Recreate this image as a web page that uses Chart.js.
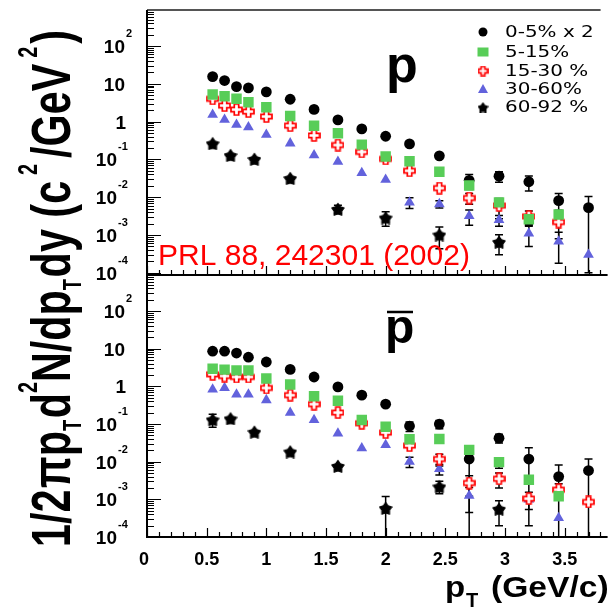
<!DOCTYPE html>
<html>
<head>
<meta charset="utf-8">
<title>Identified proton spectra</title>
<script src="https://cdn.jsdelivr.net/npm/chart.js@4.4.0/dist/chart.umd.min.js"></script>
<style>
  body { margin: 0; background: #fff; }
  #wrap { position: relative; width: 615px; height: 608px; }
  #wrap canvas { position: absolute; left: 0; top: 0; }
</style>
</head>
<body>
<div id="wrap">
  <canvas id="protonChart" width="615" height="608"></canvas>
  <canvas id="antiprotonChart" width="615" height="608"></canvas>
</div>
<script>
// pT bin centres (GeV/c) for the four central classes
const ptBins = [0.55, 0.65, 0.75, 0.85, 1.0, 1.2, 1.4, 1.6, 1.8, 2.0, 2.2, 2.45, 2.7, 2.95, 3.2, 3.45, 3.7];
// wider bins used for the most peripheral class
const ptPeripheral = [0.55, 0.7, 0.9, 1.2, 1.6, 2.0, 2.45, 2.95];

const centralityLabels = ['0-5% x 2', '5-15%', '15-30 %', '30-60%', '60-92 %'];

// protons
const pCentral = [15.5, 12.2, 8.4, 7.8, 6.1, 3.9, 2.1, 1.11, 0.64, 0.41, 0.257, 0.124, 0.028, 0.036, 0.0256, 0.0081, 0.0053];
const pCentralErr = [0, 0, 0, 0, 0, 0, 0, 0, 0, 0, 0, 0, 0.012, 0.011, 0.011, 0.0045, 0.0052];
const p515 = [5.2, 4.67, 4.0, 3.24, 2.39, 1.41, 0.78, 0.49, 0.246, 0.119, 0.089, 0.047, 0.0203, 0.0073, 0.0026, 0.0035, null];
const p515Err = [0, 0, 0, 0, 0, 0, 0, 0, 0, 0, 0, 0, 0, 0.0015, 0.0008, 0.001, 0];
const p1530 = [4.0, 2.65, 2.08, 1.84, 1.36, 0.78, 0.43, 0.24, 0.158, 0.103, 0.05, 0.0174, 0.0095, 0.006, 0.0031, 0.0022, null];
const p1530Err = [0, 0, 0, 0, 0, 0, 0, 0, 0, 0, 0, 0, 0.003, 0.0033, 0.0012, 0.0014, 0];
const p3060 = [1.53, 1.13, 0.83, 0.71, 0.45, 0.267, 0.13, 0.087, 0.044, 0.029, 0.0073, 0.0066, 0.0032, 0.0025, 0.0011, 0.00068, 0.0003];
const p3060Err = [0, 0, 0, 0, 0, 0, 0, 0, 0, 0, 0.0023, 0.0014, 0.0014, 0.0008, 0.0006, 0.0005, 0];
const p6092 = [0.267, 0.13, 0.103, 0.032, 0.0049, 0.0029, 0.00103, 0.00066];
const p6092Err = [0, 0, 0, 0, 0.0012, 0.0012, 0.0006, 0.00036];

// antiprotons
const pbarCentral = [8.5, 8.5, 7.6, 5.9, 4.4, 2.8, 1.76, 0.96, 0.58, 0.335, 0.088, 0.099, 0.0117, 0.042, 0.0117, 0.004, 0.0058];
const pbarCentralErr = [0, 0, 0, 0, 0, 0, 0, 0, 0, 0, 0.025, 0.025, 0.013, 0.011, 0.0115, 0.0041, 0.0059];
const pbar515 = [2.93, 2.76, 2.64, 2.64, 1.6, 1.11, 0.545, 0.41, 0.127, 0.084, 0.039, 0.04, 0.0205, 0.0097, 0.0033, 0.0012, null];
const pbar515Err = [0, 0, 0, 0, 0, 0, 0, 0, 0, 0, 0.01, 0, 0.006, 0.003, 0, 0, 0];
const pbar1530 = [2.07, 1.87, 1.76, 1.76, 0.9, 0.58, 0.335, 0.2, 0.104, 0.059, 0.0266, 0.0117, 0.0027, 0.0035, 0.00104, 0.0018, 0.00085];
const pbar1530Err = [0, 0, 0, 0, 0, 0, 0, 0, 0, 0, 0, 0.004, 0.0015, 0.0015, 0.0005, 0.0008, 0];
const pbar3060 = [0.82, 0.9, 0.61, 0.61, 0.43, 0.2, 0.127, 0.056, 0.0228, 0.0277, 0.01, 0.0064, 0.00125, null, 0.00099, 0.00032, null];
const pbar3060Err = [0, 0, 0, 0, 0, 0, 0, 0, 0, 0, 0.003, 0.002, 0.0008, 0, 0, 0, 0];
const pbar6092 = [0.132, 0.14, 0.062, 0.0185, 0.0077, 0.00059, 0.0022, 0.00056];
const pbar6092Err = [0.05, 0, 0, 0, 0, 0.0006, 0.0008, 0.00036];

// axis tick labels
const xTickLabels = ['0', '0.5', '1', '1.5', '2', '2.5', '3', '3.5'];
const yTickExponents = [2, 1, 0, -1, -2, -3, -4];

const FONT = '"Liberation Sans", Arial, sans-serif';
const GREEN = '#58cd58';
const BLUE = '#6262dc';

// open red cross used for 15-30%
function crossImage(size) {
  const c = document.createElement('canvas');
  c.width = c.height = size;
  const g = c.getContext('2d');
  const m = size / 2, a = size * 0.17, r = size / 2 - 1;
  g.beginPath();
  g.moveTo(m - a, m - r); g.lineTo(m + a, m - r); g.lineTo(m + a, m - a);
  g.lineTo(m + r, m - a); g.lineTo(m + r, m + a); g.lineTo(m + a, m + a);
  g.lineTo(m + a, m + r); g.lineTo(m - a, m + r); g.lineTo(m - a, m + a);
  g.lineTo(m - r, m + a); g.lineTo(m - r, m - a); g.lineTo(m - a, m - a);
  g.closePath();
  g.fillStyle = '#fff';
  g.fill();
  g.strokeStyle = '#f00';
  g.lineWidth = 1.7;
  g.stroke();
  return c;
}

// filled black star used for 60-92%
function starImage(size) {
  const c = document.createElement('canvas');
  c.width = c.height = size;
  const g = c.getContext('2d');
  const m = size / 2, ro = size / 2 - 0.5, ri = ro * 0.62;
  g.beginPath();
  for (let i = 0; i < 10; i++) {
    const r = i % 2 ? ri : ro;
    const ang = -Math.PI / 2 + i * Math.PI / 5;
    const px = m + r * Math.cos(ang), py = m + 1 + r * Math.sin(ang);
    if (i === 0) g.moveTo(px, py); else g.lineTo(px, py);
  }
  g.closePath();
  g.fillStyle = '#000';
  g.fill();
  g.strokeStyle = '#000';
  g.lineWidth = 1.2;
  g.lineJoin = 'round';
  g.stroke();
  return c;
}

const crossMarker = crossImage(13);
const crossLegend = crossImage(11);
const starMarker = starImage(14);
const starLegend = starImage(11);

function toPoints(xs, ys, errs) {
  const pts = [];
  xs.forEach((x, i) => {
    if (ys[i] == null) return;
    pts.push({ x: x, y: ys[i], err: errs[i] || 0 });
  });
  return pts;
}

function makeDatasets(c, cErr, s, sErr, cr, crErr, t, tErr, st, stErr) {
  return [
    { label: centralityLabels[1], data: toPoints(ptBins, s, sErr), pointStyle: 'rect', pointRadius: 7.4,
      backgroundColor: GREEN, borderColor: GREEN, borderWidth: 0 },
    { label: centralityLabels[2], data: toPoints(ptBins, cr, crErr), pointStyle: crossMarker, pointRadius: 6 },
    { label: centralityLabels[3], data: toPoints(ptBins, t, tErr), pointStyle: 'triangle', pointRadius: 6.2,
      backgroundColor: BLUE, borderColor: BLUE, borderWidth: 0 },
    { label: centralityLabels[4], data: toPoints(ptPeripheral, st, stErr), pointStyle: starMarker, pointRadius: 6 },
    { label: centralityLabels[0], data: toPoints(ptBins, c, cErr), pointStyle: 'circle', pointRadius: 5.4,
      backgroundColor: '#000', borderColor: '#000', borderWidth: 0 }
  ];
}

// vertical error bars with end caps, drawn under the markers
const errorBars = {
  id: 'errorBars',
  beforeDatasetsDraw(chart) {
    const { ctx, chartArea: a, scales: { y } } = chart;
    ctx.save();
    ctx.beginPath();
    ctx.rect(a.left, a.top, a.right - a.left, a.bottom - a.top);
    ctx.clip();
    ctx.strokeStyle = '#000';
    ctx.lineWidth = 1.5;
    chart.data.datasets.forEach((ds, di) => {
      const meta = chart.getDatasetMeta(di);
      ds.data.forEach((p, i) => {
        if (!p.err) return;
        const px = meta.data[i].x;
        const hi = y.getPixelForValue(p.y + p.err);
        const lowVal = p.y - p.err;
        const lo = lowVal > y.min ? y.getPixelForValue(lowVal) : a.bottom;
        ctx.beginPath();
        ctx.moveTo(px, hi); ctx.lineTo(px, lo);
        ctx.moveTo(px - 4, hi); ctx.lineTo(px + 4, hi);
        if (lowVal > y.min) { ctx.moveTo(px - 4, lo); ctx.lineTo(px + 4, lo); }
        ctx.stroke();
      });
    });
    ctx.restore();
  }
};

function stretchedText(ctx, text, x, y, sx) {
  ctx.save();
  ctx.translate(x, y);
  ctx.scale(sx, 1);
  ctx.fillText(text, 0, 0);
  ctx.restore();
}

// frame, inward ticks, tick labels and panel annotations
const panelDecor = {
  id: 'panelDecor',
  afterDraw(chart, args, opts) {
    const { ctx, chartArea: a, scales: { x, y } } = chart;
    ctx.save();

    if (opts.topFrame) {
      ctx.strokeStyle = '#555';
      ctx.lineWidth = 2;
      ctx.beginPath();
      ctx.moveTo(a.left, a.top); ctx.lineTo(a.right - 7, a.top);
      ctx.stroke();
    }
    ctx.strokeStyle = '#000';
    ctx.lineWidth = 2;
    ctx.beginPath();
    ctx.moveTo(a.left, a.top); ctx.lineTo(a.left, a.bottom); ctx.lineTo(a.right, a.bottom);
    ctx.stroke();

    ctx.lineWidth = 1.2;
    ctx.beginPath();
    for (let e = -5; e <= 3; e++) {
      for (let k = 1; k < 10; k++) {
        const v = k * Math.pow(10, e);
        if (v < y.min || v > y.max) continue;
        const py = Math.round(y.getPixelForValue(v)) + 0.5;
        ctx.moveTo(a.left, py); ctx.lineTo(a.left + (k === 1 ? 14 : 7), py);
      }
    }
    for (let i = 0; i * 0.1 <= x.max; i++) {
      const px = Math.round(x.getPixelForValue(i * 0.1)) + 0.5;
      ctx.moveTo(px, a.bottom); ctx.lineTo(px, a.bottom - (i % 5 === 0 ? 9 : 5));
    }
    ctx.stroke();

    // decade labels
    ctx.fillStyle = '#000';
    ctx.textBaseline = 'alphabetic';
    yTickExponents.forEach(e => {
      const py = y.getPixelForValue(Math.pow(10, e));
      ctx.font = 'bold 19px ' + FONT;
      ctx.textAlign = 'right';
      if (e === 0) { ctx.fillText('1', 126, py + 7); return; }
      const right = e > 0 ? 125 : 117;
      ctx.fillText('10', right, py + 7);
      if (e > 1 || e < 0) {
        ctx.font = 'bold 11px ' + FONT;
        ctx.textAlign = 'left';
        ctx.fillText(String(e), right + 1, py - 9);
      }
    });

    if (opts.xLabels) {
      ctx.font = 'bold 18px ' + FONT;
      ctx.textAlign = 'center';
      xTickLabels.forEach(t => {
        ctx.fillText(t, x.getPixelForValue(parseFloat(t)) - (t === '0' ? 3 : 0), 565);
      });
    }

    // particle symbol
    ctx.textAlign = 'left';
    ctx.font = 'bold ' + opts.symbolSize + 'px ' + FONT;
    ctx.fillText('p', opts.symbolX, opts.symbolY);
    if (opts.overline) {
      ctx.lineWidth = 2.5;
      ctx.beginPath();
      ctx.moveTo(opts.symbolX + 2, opts.symbolY - 31);
      ctx.lineTo(opts.symbolX + 28, opts.symbolY - 31);
      ctx.stroke();
    }

    if (opts.legend) {
      const rows = [32, 52, 71, 89, 107];
      const mx = 483;
      ctx.fillStyle = '#000';
      ctx.beginPath(); ctx.arc(mx, rows[0], 4.5, 0, Math.PI * 2); ctx.fill();
      ctx.fillStyle = GREEN;
      ctx.fillRect(mx - 5.5, rows[1] - 4.5, 11, 9);
      ctx.drawImage(crossLegend, mx - 5.5, rows[2] - 5.5);
      ctx.fillStyle = BLUE;
      ctx.beginPath();
      ctx.moveTo(mx, rows[3] - 5); ctx.lineTo(mx + 5, rows[3] + 4); ctx.lineTo(mx - 5, rows[3] + 4);
      ctx.closePath(); ctx.fill();
      ctx.drawImage(starLegend, mx - 5.5, rows[4] - 5.5);

      ctx.fillStyle = '#000';
      ctx.font = '15px "DejaVu Sans", sans-serif';
      ctx.textBaseline = 'middle';
      centralityLabels.forEach((lab, i) => stretchedText(ctx, lab, 505, rows[i] + 1, 1.33));
      ctx.textBaseline = 'alphabetic';
    }

    if (opts.reference) {
      ctx.fillStyle = '#f00';
      ctx.font = '30px ' + FONT;
      ctx.fillText('PRL 88, 242301 (2002)', 158, 265);
    }

    if (opts.titles) {
      ctx.fillStyle = '#000';
      // x title
      ctx.font = 'bold 30px ' + FONT;
      stretchedText(ctx, 'p', 445, 597, 1.1);
      ctx.font = 'bold 20px ' + FONT;
      ctx.fillText('T', 466, 607);
      ctx.font = 'bold 30px ' + FONT;
      stretchedText(ctx, '(GeV/c)', 491, 597, 1.12);

      // rotated y title
      const parts = [
        ['1/2', 'main', 0], ['\u03c0', 'main', 2], ['p', 'main', 0], ['T', 'sub', 0], ['d', 'main', 2],
        ['2', 'sup', 0], ['N/dp', 'main', 0], ['T', 'sub', 0], ['dy (c', 'main', 2], ['2', 'sup', 8],
        ['/GeV', 'main', 8], ['2', 'sup', 8], [')', 'main', 4]
      ];
      const fonts = { main: 'bold 56px ' + FONT, sub: 'bold 25px ' + FONT, sup: 'bold 27px ' + FONT };
      const shift = { main: 0, sub: 11, sup: -33 };
      let total = 0;
      parts.forEach(([t, kind, gap]) => { ctx.font = fonts[kind]; total += gap + ctx.measureText(t).width; });
      const sx = 517 / total;
      ctx.save();
      ctx.translate(70, 547);
      ctx.rotate(-Math.PI / 2);
      ctx.scale(sx, 1);
      let cx = 0;
      parts.forEach(([t, kind, gap]) => {
        ctx.font = fonts[kind];
        cx += gap;
        ctx.fillText(t, cx, shift[kind]);
        cx += ctx.measureText(t).width;
      });
      ctx.restore();
    }
    ctx.restore();
  }
};

function panelOptions(padding, yMin, yMax, decor) {
  return {
    responsive: false,
    animation: false,
    devicePixelRatio: 1,
    layout: { padding: padding },
    plugins: { legend: { display: false }, tooltip: { enabled: false }, panelDecor: decor },
    scales: {
      x: { type: 'linear', min: 0, max: 3.86, display: false },
      y: { type: 'logarithmic', min: yMin, max: yMax, display: false }
    }
  };
}

new Chart(document.getElementById('protonChart'), {
  type: 'scatter',
  data: { datasets: makeDatasets(pCentral, pCentralErr, p515, p515Err, p1530, p1530Err, p3060, p3060Err, p6092, p6092Err) },
  options: panelOptions({ left: 147, top: 10, right: 5, bottom: 333 }, 8.75e-5, 896, {
    topFrame: true, xLabels: false, legend: true, reference: true, titles: false,
    symbolSize: 52, symbolX: 386, symbolY: 82, overline: false
  }),
  plugins: [errorBars, panelDecor]
});

new Chart(document.getElementById('antiprotonChart'), {
  type: 'scatter',
  data: { datasets: makeDatasets(pbarCentral, pbarCentralErr, pbar515, pbar515Err, pbar1530, pbar1530Err, pbar3060, pbar3060Err, pbar6092, pbar6092Err) },
  options: panelOptions({ left: 147, top: 276, right: 5, bottom: 71 }, 1e-4, 842, {
    topFrame: false, xLabels: true, legend: false, reference: false, titles: true,
    symbolSize: 48, symbolX: 385, symbolY: 343, overline: true
  }),
  plugins: [errorBars, panelDecor]
});
</script>
</body>
</html>
